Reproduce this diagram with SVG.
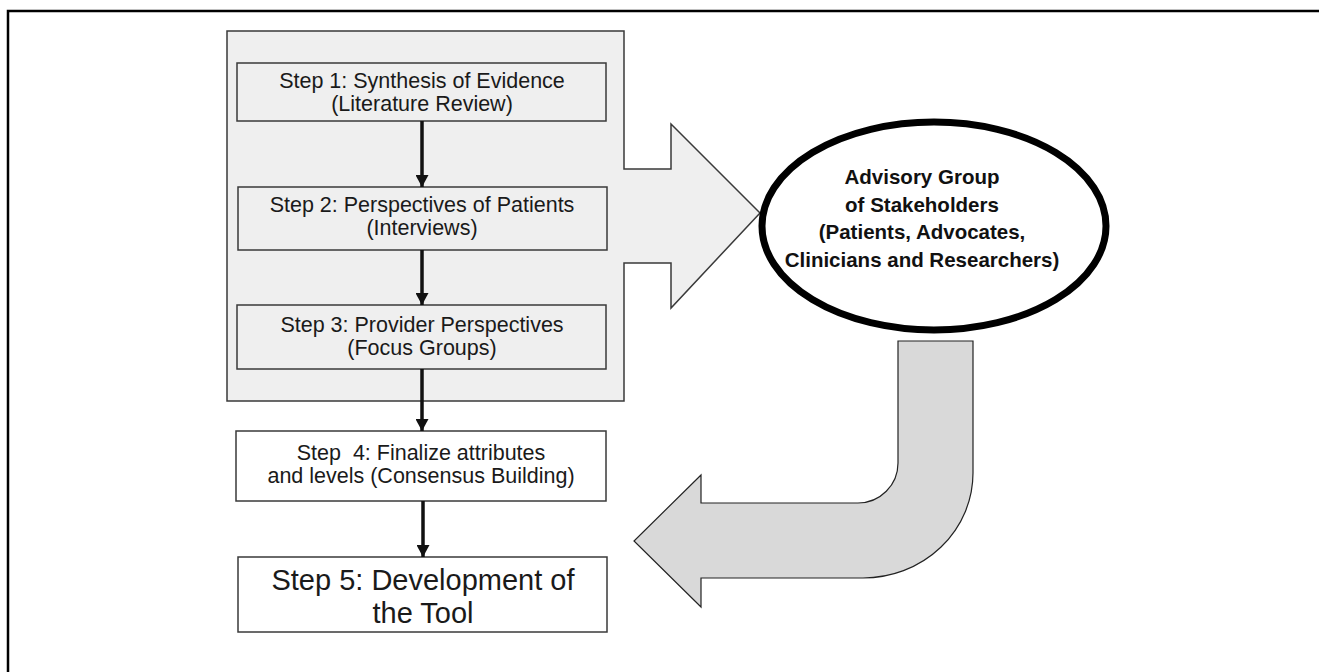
<svg xmlns="http://www.w3.org/2000/svg" width="1319" height="672" viewBox="0 0 1319 672">
<defs>
<style>
.box{fill:#efefef;stroke:#3a3a3a;stroke-width:1.5}
.wbox{fill:#ffffff;stroke:#3a3a3a;stroke-width:1.5}
.t{font-family:"Liberation Sans",Arial,sans-serif;font-size:21.5px;fill:#1a1a1a;text-anchor:middle}
.big{font-size:29px}
.b{font-family:"Liberation Sans",Arial,sans-serif;font-size:20.5px;font-weight:bold;fill:#111;text-anchor:middle}
.con{stroke:#111;stroke-width:3.5;fill:none;marker-end:url(#ah)}
</style>
<marker id="ah" viewBox="0 0 12 13" refX="12" refY="6.5" markerWidth="12" markerHeight="13" markerUnits="userSpaceOnUse" orient="auto">
<path d="M0,0 L12,6.5 L0,13 Z" fill="#111"/>
</marker>
</defs>
<rect width="1319" height="672" fill="#ffffff"/>
<path d="M8,672 V11 H1319" fill="none" stroke="#000" stroke-width="2.5"/>
<g id="container">
<path d="M227,31 H624 V169 H671 V124 L760,213 L671,308 V263 H624 V401 H227 Z" fill="#efefef" stroke="#3a3a3a" stroke-width="1.5"/>
</g>
<g id="step1">
<rect class="box" x="237" y="63" width="369" height="58"/>
<text class="t" x="422" y="88">Step 1: Synthesis of Evidence</text>
<text class="t" x="422" y="111">(Literature Review)</text>
</g>
<g id="step2">
<rect class="box" x="238" y="187" width="369" height="63"/>
<text class="t" x="422" y="212">Step 2: Perspectives of Patients</text>
<text class="t" x="422" y="235">(Interviews)</text>
</g>
<g id="step3">
<rect class="box" x="237" y="305" width="369" height="64"/>
<text class="t" x="422" y="332">Step 3: Provider Perspectives</text>
<text class="t" x="422" y="355">(Focus Groups)</text>
</g>
<g id="step4">
<rect class="wbox" x="236" y="431" width="370" height="70"/>
<text class="t" x="421" y="460" xml:space="preserve">Step  4: Finalize attributes</text>
<text class="t" x="421" y="483">and levels (Consensus Building)</text>
</g>
<g id="step5">
<rect class="wbox" x="238" y="557" width="369" height="75"/>
<text class="t big" x="423" y="590">Step 5: Development of</text>
<text class="t big" x="423" y="623">the Tool</text>
</g>
<g id="advisory">
<ellipse cx="934" cy="226" rx="172" ry="104" fill="#ffffff" stroke="#000" stroke-width="7"/>
<text class="b" x="922" y="184">Advisory Group</text>
<text class="b" x="922" y="212">of Stakeholders</text>
<text class="b" x="922" y="239">(Patients, Advocates,</text>
<text class="b" x="922" y="267">Clinicians and Researchers)</text>
</g>
<g id="connectors">
<line class="con" x1="422" y1="121" x2="422" y2="187"/>
<line class="con" x1="422" y1="250" x2="422" y2="305"/>
<line class="con" x1="422" y1="369" x2="422" y2="431"/>
<line class="con" x1="423" y1="501" x2="423" y2="557"/>
<path d="M898,341 H973 V473 A110,105 0 0 1 863,578 H701 V607 L634,541 L701,475 V503 H858 A40,40 0 0 0 898,463 Z" fill="#d9d9d9" stroke="#222" stroke-width="1.2"/>
</g>
</svg>
